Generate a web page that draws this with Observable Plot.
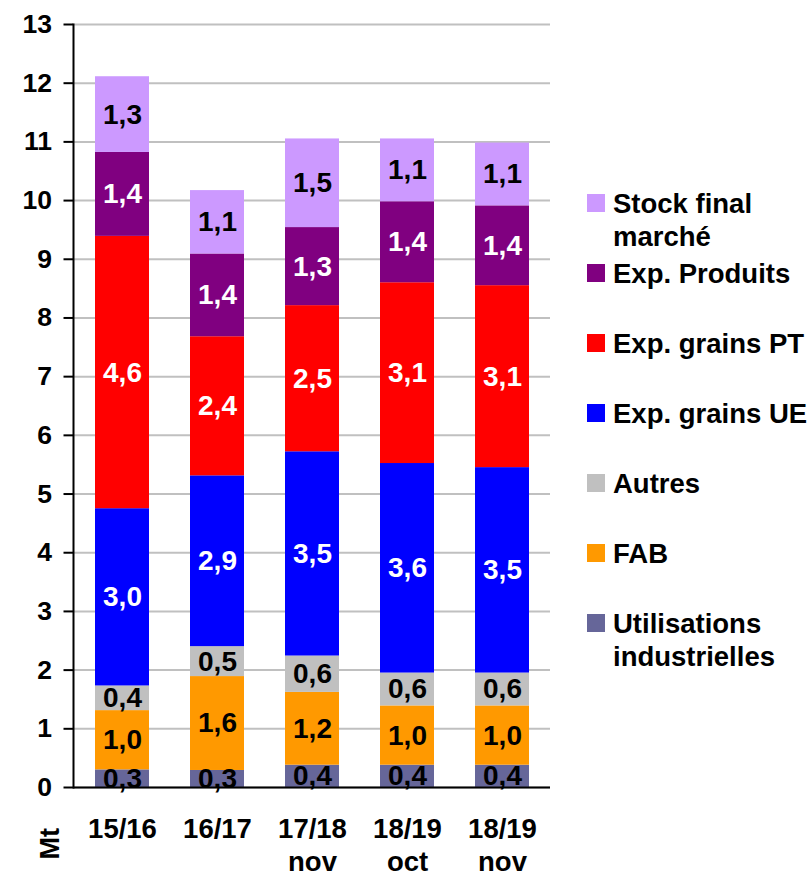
<!DOCTYPE html>
<html>
<head>
<meta charset="utf-8">
<script src="https://cdn.jsdelivr.net/npm/d3@7"></script>
<script src="https://cdn.jsdelivr.net/npm/@observablehq/plot@0.6"></script>
<style>
  html, body { margin: 0; padding: 0; background: #fff; }
  #wrap { position: relative; width: 810px; height: 878px; overflow: hidden;
          font-family: "Liberation Sans", Arial, sans-serif; font-weight: bold; }
  #legend { position: absolute; left: 587px; top: 0; }
  .item { position: absolute; left: 0; white-space: nowrap; }
  .sw { position: absolute; left: 0; width: 18px; height: 18px; }
  .lab { position: absolute; left: 26px; font-size: 27.5px; line-height: 33px; color: #000; white-space: pre; }
</style>
</head>
<body>
<div id="wrap"><div id="legend"></div></div>
<script>
// ---- data ----
const categories = ["15/16", "16/17", "17/18\nnov", "18/19\noct", "18/19\nnov"];
const series = ["Utilisations industrielles", "FAB", "Autres", "Exp. grains UE", "Exp. grains PT", "Exp. Produits", "Stock final marché"];
const legendLabels = ["Utilisations\nindustrielles", "FAB", "Autres", "Exp. grains UE", "Exp. grains PT", "Exp. Produits", "Stock final\nmarché"];
const utilisations = [0.30, 0.29, 0.38, 0.38, 0.38];
const fab          = [1.01, 1.60, 1.24, 1.01, 1.01];
const autres       = [0.42, 0.51, 0.62, 0.56, 0.56];
const expUE        = [3.02, 2.91, 3.48, 3.57, 3.50];
const expPT        = [4.64, 2.37, 2.49, 3.08, 3.10];
const expProduits  = [1.43, 1.41, 1.33, 1.38, 1.36];
const stockFinal   = [1.29, 1.08, 1.51, 1.07, 1.07];
const colors = ["#666699", "#FF9900", "#C0C0C0", "#0000FF", "#FF0000", "#800080", "#CC99FF"];
const whiteLabels = ["Exp. grains UE", "Exp. grains PT", "Exp. Produits"];
const yTicks = d3.range(0, 14);

const seriesValues = [utilisations, fab, autres, expUE, expPT, expProduits, stockFinal];
const data = [];
categories.forEach((cat, i) => {
  series.forEach((s, j) => data.push({cat, series: s, value: seriesValues[j][i]}));
});
const fmt = d => d.value.toFixed(1).replace(".", ",");
const stackOpts = {x: "cat", y: "value", z: "series", text: fmt};

const chart = Plot.plot({
  width: 810,
  height: 878,
  marginLeft: 73,
  marginRight: 260,
  marginTop: 24,
  marginBottom: 91,
  style: {fontFamily: '"Liberation Sans", Arial, sans-serif', fontWeight: "bold", color: "#000", background: "#fff", overflow: "visible"},
  x: {domain: categories, paddingInner: 0.435, paddingOuter: 0.2175, label: null},
  y: {domain: [0, 13], label: null},
  color: {domain: series, range: colors},
  marks: [
    Plot.gridY(yTicks, {stroke: "#c0c0c0", strokeOpacity: 1, strokeWidth: 2}),
    Plot.barY(data, {x: "cat", y: "value", z: "series", fill: "series"}),
    Plot.text(data, Plot.filter(d => !whiteLabels.includes(d.series), Plot.stackY({...stackOpts, fill: "#000", fontSize: 28}))),
    Plot.text(data, Plot.filter(d => whiteLabels.includes(d.series), Plot.stackY({...stackOpts, fill: "#fff", fontSize: 28}))),
    Plot.ruleY([0], {stroke: "#000", strokeWidth: 2}),
    Plot.frame({anchor: "left", stroke: "#000", strokeWidth: 2}),
    Plot.axisY(yTicks, {tickSize: 9.5, tickPadding: 12, fontSize: 26.5, tickFormat: d => String(d), stroke: "#000", strokeWidth: 2, label: null}),
    Plot.axisX({tickSize: 0, tickPadding: 27, fontSize: 27.5, lineHeight: 1.2, label: null}),
    Plot.text(["Mt"], {frameAnchor: "bottom-left", rotate: -90, dx: -15, dy: 72, fontSize: 27, fill: "#000"})
  ]
});
document.getElementById("wrap").prepend(chart);

// ---- legend (top series first) ----
const legend = document.getElementById("legend");
for (let k = series.length - 1, row = 0; k >= 0; k--, row++) {
  const center = 203 + 70 * row;
  const item = document.createElement("div");
  item.className = "item";
  item.style.top = (center - 9) + "px";
  const sw = document.createElement("div");
  sw.className = "sw";
  sw.style.background = colors[k];
  const lab = document.createElement("div");
  lab.className = "lab";
  lab.style.top = (-16.5 + 9) + "px";
  lab.textContent = legendLabels[k];
  item.appendChild(sw);
  item.appendChild(lab);
  legend.appendChild(item);
}
</script>
</body>
</html>
